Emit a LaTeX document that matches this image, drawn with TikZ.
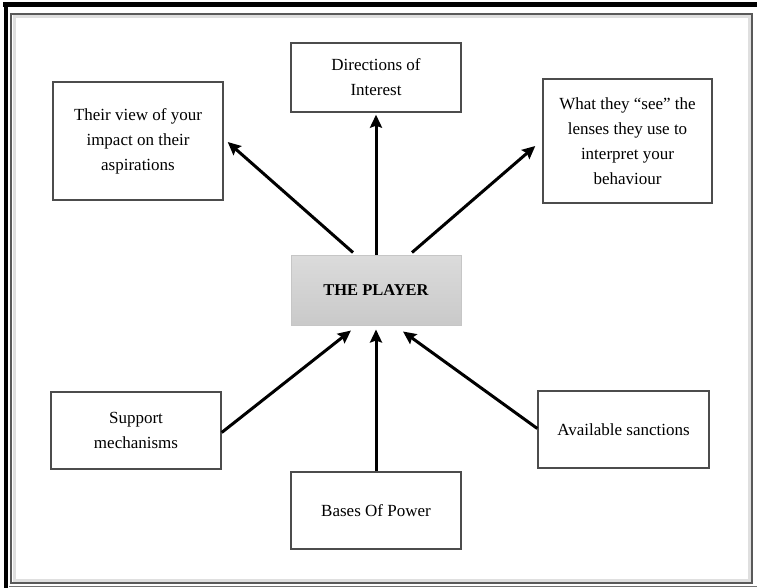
\documentclass[tikz,border=0pt]{standalone}
\usepackage{fontspec}
\setmainfont{Liberation Serif}
\usepackage{tikz}
\usetikzlibrary{calc}
\usetikzlibrary{arrows.meta}

\begin{document}
\begin{tikzpicture}[x=1pt, y=-1pt,
 every text node part/.style={align=center},
 block/.style={rectangle, inner sep=0pt, minimum width=170pt, draw=black!70, line width=1.4pt, fill=white, font=\fontsize{17}{25}\selectfont},
 core/.style={rectangle, inner sep=0pt, minimum width=170pt, minimum height=70pt, draw=gray!45, line width=1pt, top color=gray!28, bottom color=gray!42, font=\fontsize{16.5}{24}\selectfont\bfseries},
 arrow/.style={-{Stealth[length=13pt, width=12pt, inset=2pt]}, line width=3pt}]

	\useasboundingbox (0,0) rectangle (757,588);

	% frame
	\draw[line width=5pt] (3,5) -- (757,5);
	\draw[line width=4pt] (6,3) -- (6,588);
	\draw[gray!25, line width=3pt] (14,17) rectangle (749,580);
	\draw[black!65, line width=1.4pt] (11,14) rectangle (752,583);
	\draw[black!55, line width=1pt] (9,586) -- (757,586);

	% nodes
	\node[core] (player) at (376,290) {THE PLAYER};
	\node[block, minimum height=69pt] (dir) at (376,77.5) {Directions of\\ Interest};
	\node[block, minimum height=118pt] (view) at (138,141) {Their view of your\\ impact on their\\ aspirations};
	\node[block, minimum width=169pt, minimum height=124pt] (see) at (627.5,141) {What they “see” the\\ lenses they use to\\ interpret your\\ behaviour};
	\node[block, minimum height=77pt] (support) at (136,430.5) {Support\\ mechanisms};
	\node[block, minimum width=171pt, minimum height=77pt] (sanction) at (623.5,429.5) {Available sanctions};
	\node[block, minimum height=77pt] (bases) at (376,510.5) {Bases Of Power};

	% arrows
	\draw[arrow] (player.north) -- ($(dir.south)+(0,2)$);
	\draw[arrow] ($(player.north)+(-23,-2)$) -- ($(view.east)+(4,1)$);
	\draw[arrow] ($(player.north)+(36,-2)$) -- ($(see.west)+(-7,5)$);
	\draw[arrow] ($(support.east)+(0,2)$) -- ($(player.south)+(-25,5)$);
	\draw[arrow] ($(sanction.west)+(0,-1)$) -- ($(player.south)+(27,6)$);
	\draw[arrow] (bases.north) -- ($(player.south)+(0,4)$);
\end{tikzpicture}
\end{document}
